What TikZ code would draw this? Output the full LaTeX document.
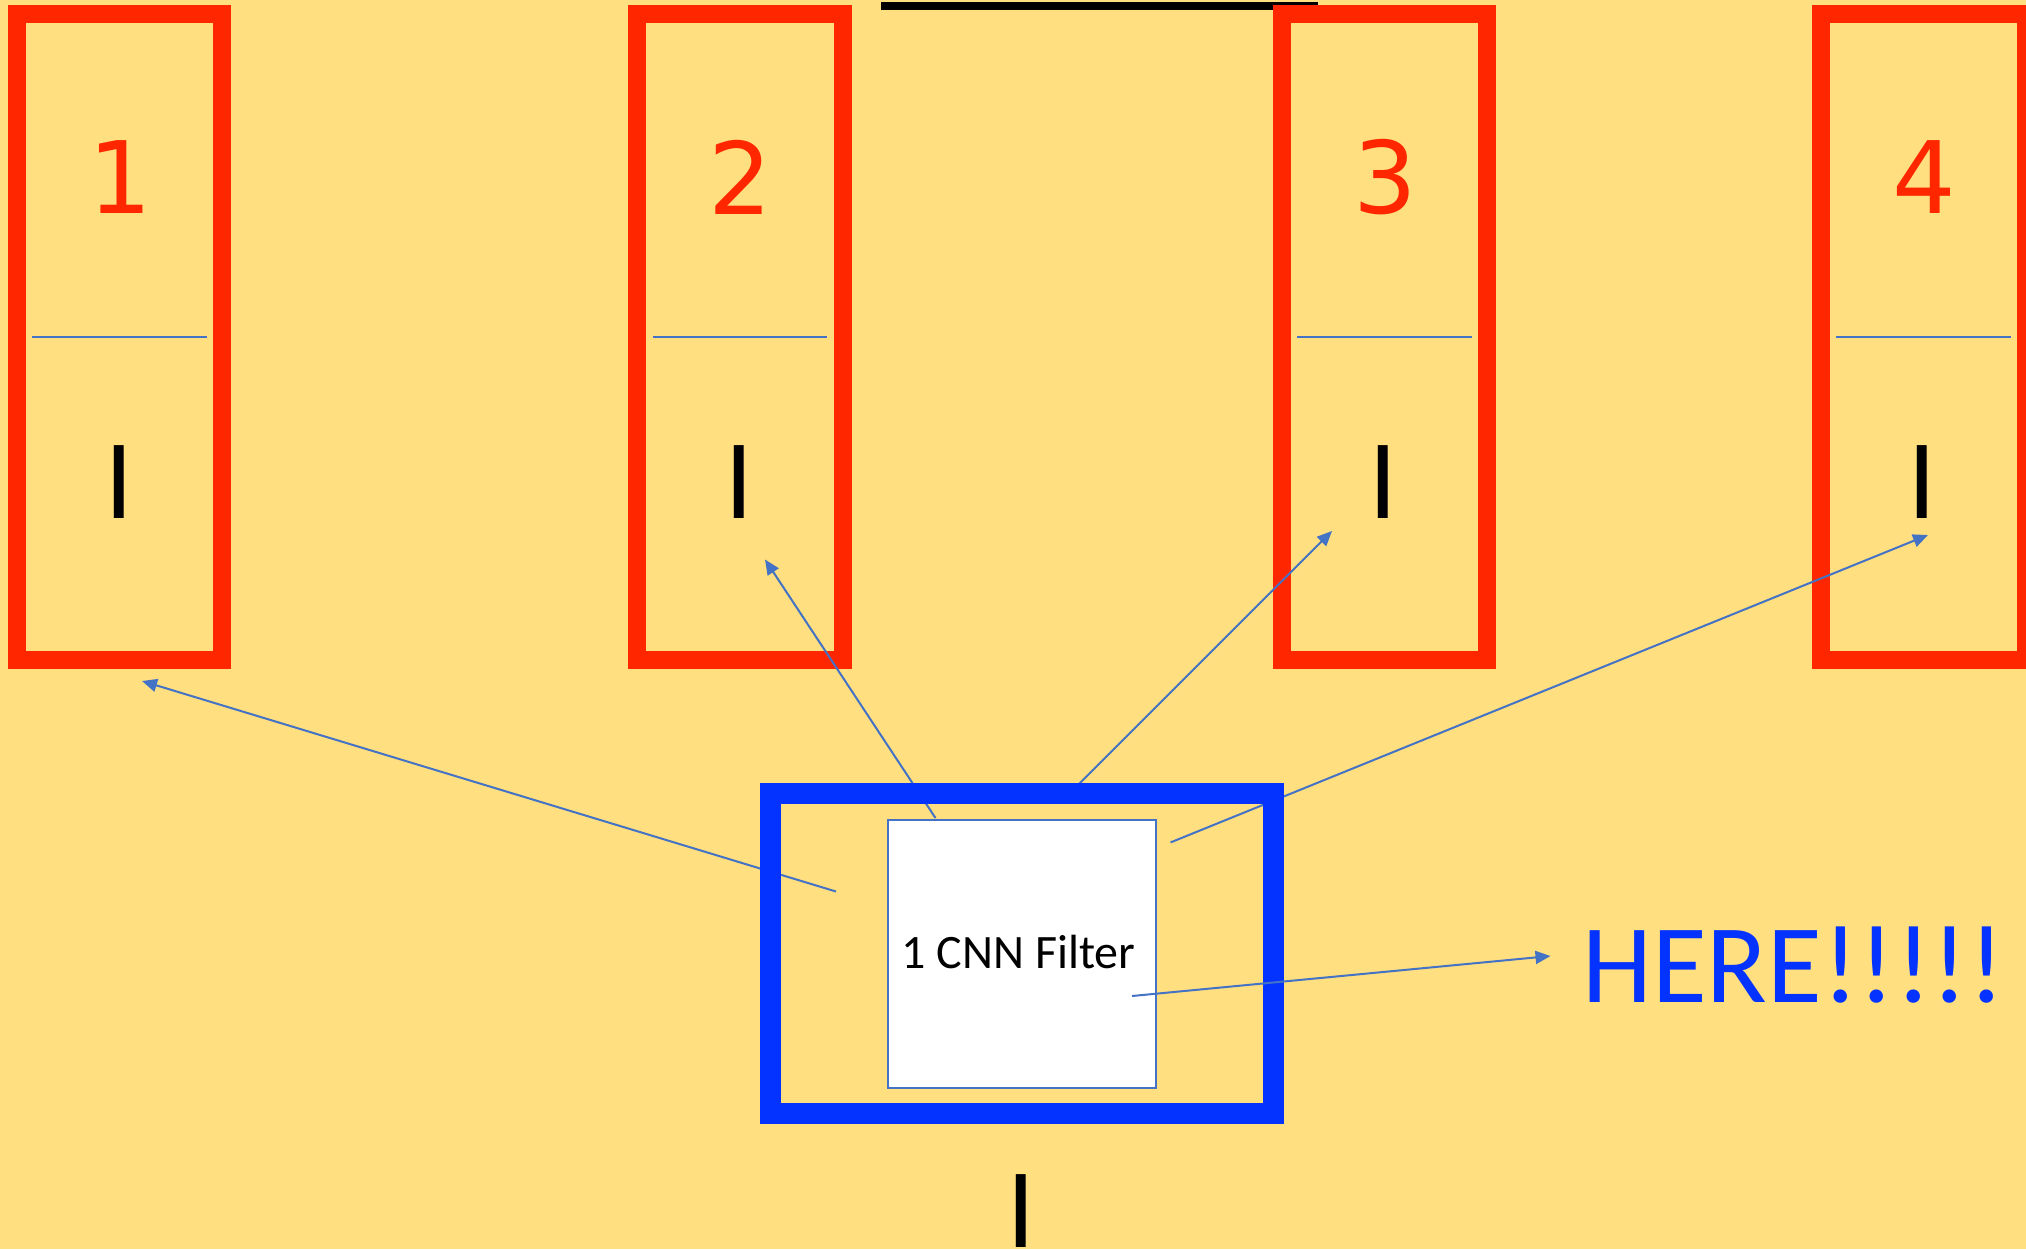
\documentclass[tikz,border=0pt]{standalone}
\usepackage{fontspec}
\usetikzlibrary{arrows.meta}
\newfontfamily\digitfont{DejaVu Sans}
\newfontfamily\calfont{Carlito}
\definecolor{bgyellow}{HTML}{FFDF80}
\definecolor{boxred}{HTML}{FF2600}
\definecolor{boxblue}{HTML}{0433FF}
\definecolor{linkblue}{HTML}{4472C4}
\tikzset{
  redbox/.style={draw=boxred, line width=9pt},
  bluebox/.style={draw=boxblue, line width=10.5pt},
  filterbox/.style={draw=linkblue, fill=white, line width=1pt},
  divider/.style={draw=linkblue, line width=1pt},
  conn/.style={draw=linkblue, line width=1pt, -{Triangle[length=7.5pt,width=6.5pt]}},
  numlabel/.style={text=boxred, font=\digitfont\fontsize{50pt}{60pt}\selectfont, inner sep=0pt},
  ilabel/.style={text=black, font=\digitfont\fontsize{50pt}{60pt}\selectfont, inner sep=0pt},
}
\begin{document}
\begin{tikzpicture}[x=0.5pt,y=-0.5pt]
\fill[bgyellow] (0,0) rectangle (2026,1249);
\useasboundingbox (0,0) rectangle (2026,1249);
% title underline (text cut off above)
\fill[black] (881,2) rectangle (1318,10);
% red boxes
\foreach \L/\n in {7.8/1, 628/2, 1272.7/3, 1811.7/4}{
  \draw[redbox] (\L+9,14.2) rectangle (\L+214.5,660.3);
  \draw[divider] (\L+24.5,337) -- (\L+198.9,337);
  \node[numlabel] (num\n) at (\L+112.5,177) {\n};
  \node[ilabel] (i\n) at (\L+111,482.5) {I};
}
% arrow endpoints
\coordinate (s1) at (836,891.5);   \coordinate (t1) at (142,681);
\coordinate (s2) at (935.5,818);   \coordinate (t2) at (765,559.5);
\coordinate (s3) at (1070,793);    \coordinate (t3) at (1332,531);
\coordinate (s4) at (1170.6,842.4);\coordinate (t4) at (1928,535);
\coordinate (s5) at (1132,996);    \coordinate (t5) at (1550.5,956);
\draw[conn] (s1) -- (t1);
\draw[conn] (s2) -- (t2);
\draw[conn] (s3) -- (t3);
\draw[conn] (s4) -- (t4);
% blue frame and filter
\draw[bluebox] (770.2,793.5) rectangle (1273.8,1113.5);
\draw[filterbox] (888,820) rectangle (1156,1088);
\node[anchor=base, inner sep=0pt, font=\calfont\fontsize{24pt}{29pt}\selectfont] (filter) at (1018.5,968) {1 CNN Filter};
\draw[conn] (s5) -- (t5);
\node[anchor=base, inner sep=0pt, text=boxblue, font=\calfont\fontsize{56pt}{66pt}\selectfont] (here) at (1793.5,1002) {HERE!!!!!};
\node[ilabel] (ibottom) at (1021,1211.5) {I};
\end{tikzpicture}
\end{document}
